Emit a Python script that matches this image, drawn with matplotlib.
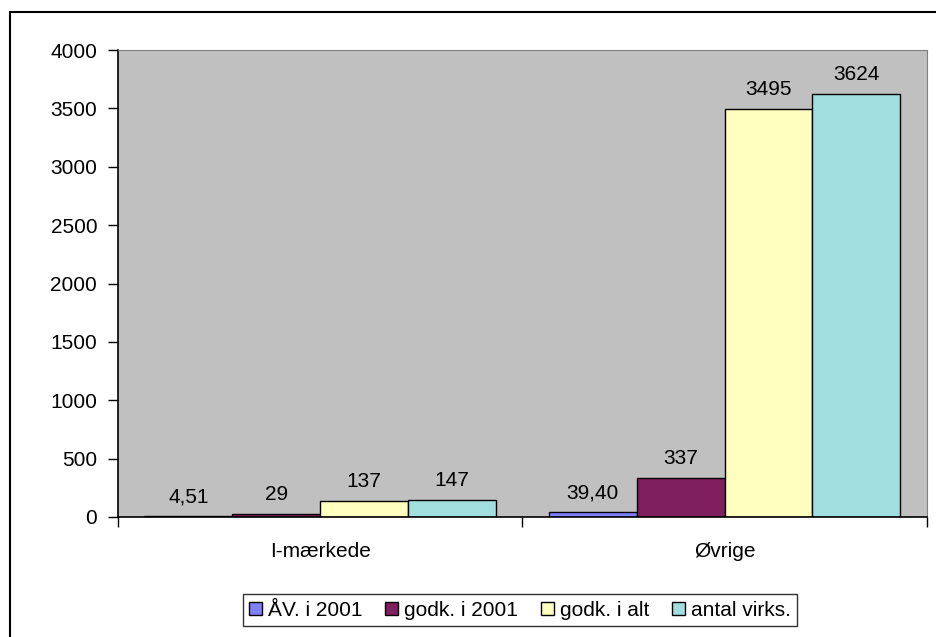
import numpy as np
import matplotlib.pyplot as plt
from matplotlib.patches import Rectangle

categories = ['I-mærkede', 'Øvrige']
series_names = ['ÅV. i 2001', 'godk. i 2001', 'godk. i alt', 'antal virks.']
av_2001 = [4.51, 39.40]
godk_2001 = [29, 337]
godk_alt = [137, 3495]
antal_virks = [147, 3624]
label_text = [['4,51', '39,40'], ['29', '337'], ['137', '3495'], ['147', '3624']]
colors = ['#8080FF', '#7F1F5F', '#FFFFC0', '#A0DEE0']

plt.rcParams['font.family'] = ['Liberation Sans', 'DejaVu Sans']
plt.rcParams['font.size'] = 15

fig = plt.figure(figsize=(9.37, 6.37), dpi=100)
fig.patches.append(Rectangle((10 / 937, -0.1), 1.0, 1.1 - 12 / 637, transform=fig.transFigure,
                             fill=False, edgecolor='black', linewidth=1.5))
ax = fig.add_axes([0.126, 0.1884, 0.863, 0.733])
ax.set_facecolor('#C0C0C0')

x = np.arange(len(categories))
w = 0.2175
all_series = [av_2001, godk_2001, godk_alt, antal_virks]
for i, vals in enumerate(all_series):
    pos = x + (i - 1.5) * w
    ax.bar(pos, vals, width=w, color=colors[i], edgecolor='black', linewidth=1,
           label=series_names[i])
    for p, v, t in zip(pos, vals, label_text[i]):
        ax.annotate(t, (p, v), xytext=(0, 7), textcoords='offset points',
                    ha='center', va='bottom')

ax.set_xlim(-0.5, 1.5)
ax.set_ylim(0, 4000)
ax.set_yticks(np.arange(0, 4001, 500))
ax.set_xticks([-0.5, 0.5, 1.5])
ax.set_xticklabels([])
ax.set_xticks(x, minor=True)
ax.set_xticklabels(categories, minor=True)
ax.tick_params(axis='x', which='major', direction='out', length=7, width=1)
ax.tick_params(axis='x', which='minor', length=0, pad=18)
ax.tick_params(axis='y', direction='out', length=7, width=1, pad=8)
for s in ['top', 'right']:
    ax.spines[s].set_color('#808080')
for s in ['left', 'bottom']:
    ax.spines[s].set_color('black')
    ax.spines[s].set_linewidth(1.2)

fig.legend(loc='center', bbox_to_anchor=(520 / 937, 0.042), ncol=4, frameon=True,
           fancybox=False, edgecolor='black', handlelength=0.6, handleheight=0.6,
           handletextpad=0.3, columnspacing=1.1, borderpad=0.3)

fig.savefig('out.png', dpi=100)
